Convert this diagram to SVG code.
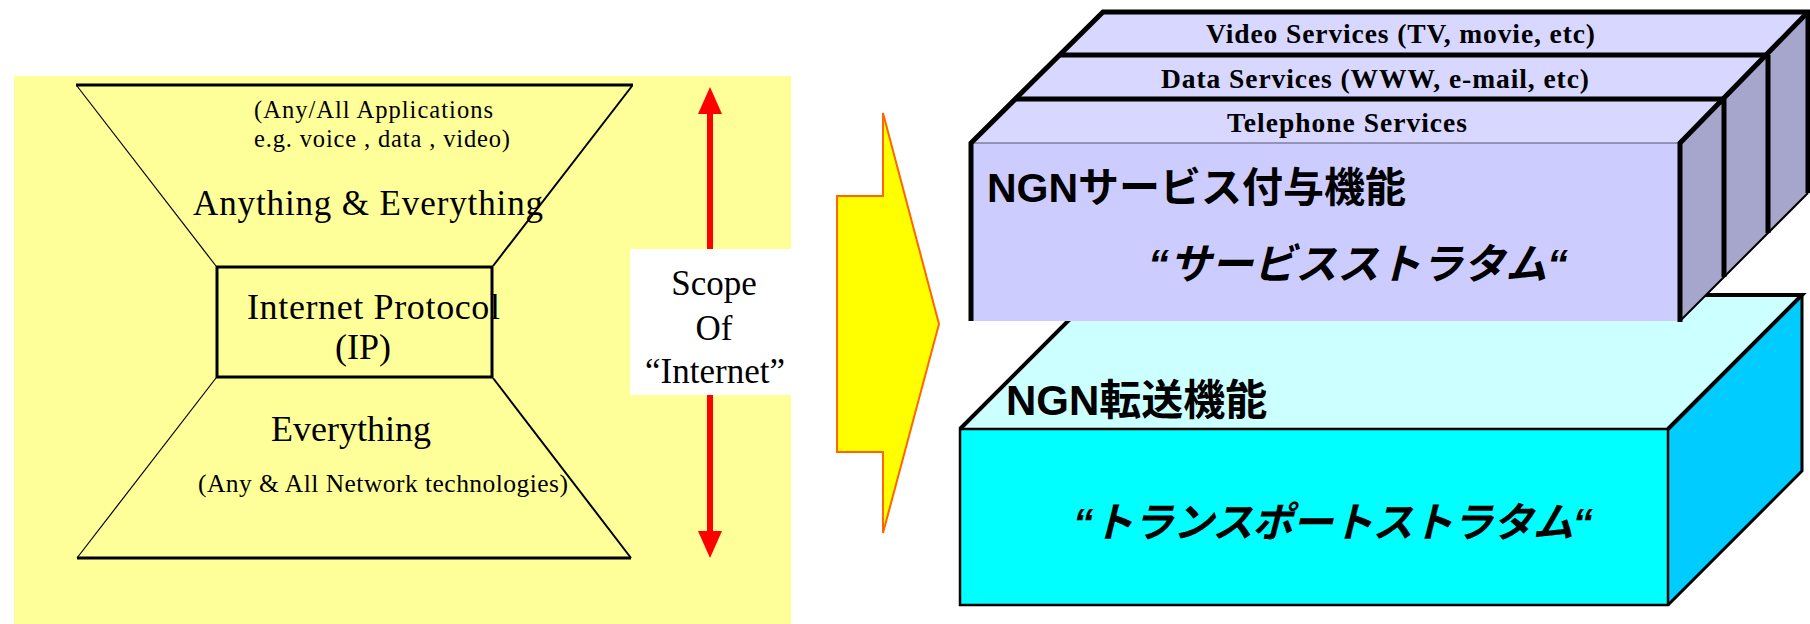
<svg xmlns="http://www.w3.org/2000/svg" width="1810" height="624" viewBox="0 0 1810 624">
<style>
.serif{font-family:"Liberation Serif","Times New Roman",serif;fill:#000}
.sb{font-family:"Liberation Serif","Times New Roman",serif;font-weight:bold;fill:#000}
.jp{font-family:"Liberation Sans","Noto Sans CJK JP",sans-serif;font-weight:bold;fill:#000}
.jpi{font-family:"Liberation Sans","Noto Sans CJK JP",sans-serif;font-weight:bold;font-style:italic;fill:#000}
.thick{stroke:#000;stroke-width:5;fill:none;stroke-linejoin:miter}
.ln{stroke:#000;fill:none}
</style>
<rect width="1810" height="624" fill="#FFFFFF"/>
<g id="internet-panel">
  <rect x="14" y="76" width="777" height="548" fill="#FFFF99"/>
  <g id="applications-layer">
    <line class="ln" x1="76" y1="85" x2="633" y2="85" stroke-width="3"/>
    <line class="ln" x1="77" y1="86" x2="216" y2="266" stroke-width="1.2"/>
    <line class="ln" x1="632" y1="86" x2="493" y2="266" stroke-width="2"/>
    <text class="serif" x="254" y="118" font-size="24.5" textLength="239">(Any/All Applications</text>
    <text class="serif" x="254" y="147" font-size="24.5" textLength="256">e.g. voice , data , video)</text>
    <text class="serif" x="193" y="215" font-size="35" textLength="350">Anything &amp; Everything</text>
  </g>
  <g id="ip-box">
    <rect x="217" y="267" width="275" height="110" fill="none" stroke="#000" stroke-width="3"/>
    <text class="serif" x="247" y="319" font-size="36" textLength="253">Internet Protocol</text>
    <text class="serif" x="363" y="359" font-size="36" text-anchor="middle">(IP)</text>
  </g>
  <g id="network-layer">
    <line class="ln" x1="216" y1="378" x2="77" y2="558" stroke-width="1.2"/>
    <line class="ln" x1="493" y1="378" x2="631" y2="558" stroke-width="2"/>
    <line class="ln" x1="77" y1="558" x2="631" y2="558" stroke-width="3"/>
    <text class="serif" x="351" y="441" font-size="36" text-anchor="middle">Everything</text>
    <text class="serif" x="198" y="492" font-size="25.5" textLength="370">(Any &amp; All Network technologies)</text>
  </g>
  <g id="scope-label">
    <rect x="630" y="249" width="161" height="146" fill="#FFFFFF"/>
    <text class="serif" x="714" y="295" font-size="35" text-anchor="middle">Scope</text>
    <text class="serif" x="714" y="340" font-size="35" text-anchor="middle">Of</text>
    <text class="serif" x="715" y="383" font-size="35" text-anchor="middle">“Internet”</text>
  </g>
</g>
<g id="connectors">
  <g id="scope-arrow" fill="#FF0000">
    <rect x="707" y="112" width="6" height="137"/>
    <rect x="707" y="395" width="6" height="138"/>
    <polygon points="710,87 698,114 722,114"/>
    <polygon points="710,558 698,531 722,531"/>
  </g>
  <polygon id="transform-arrow" points="883,113 939,324 883,533 883,452 837,452 837,196 883,196" fill="#FFFF00" stroke="#FF6600" stroke-width="2"/>
</g>
<g id="transport-stratum">
  <polygon points="960,429 1094,295 1802,295 1668,429" fill="#CCFFFF"/>
  <polygon points="1668,429 1802,295 1802,471 1668,605" fill="#00CCFF"/>
  <rect x="960" y="429" width="708" height="176" fill="#00FFFF" stroke="#000" stroke-width="2.5"/>
  <path class="ln" d="M960,429 L1094,295 H1802 L1668,429" stroke-width="4"/>
  <path class="ln" d="M1802,295 V471 L1668,605" stroke-width="3"/>
  <text class="jp" x="1006" y="415" font-size="42">NGN転送機能</text>
  <text class="jpi" x="1073" y="537" font-size="41" textLength="520">“トランスポートストラタム“</text>
</g>
<g id="service-stratum">
  <polygon points="1059,55 1103,12 1808,12 1768,55" fill="#D7D7FF"/>
  <polygon points="1768,55 1808,12 1808,193 1768,233" fill="#A6A6CC"/>
  <polygon points="1015,99 1059,55 1768,55 1724,99" fill="#D7D7FF"/>
  <polygon points="1724,99 1768,55 1768,233 1724,277" fill="#A6A6CC"/>
  <polygon points="971,143 1015,99 1724,99 1680,143" fill="#D7D7FF"/>
  <polygon points="1680,143 1724,99 1724,277 1680,321" fill="#A6A6CC"/>
  <rect x="971" y="143" width="709" height="178" fill="#CCCCFF"/>
  <line x1="971" y1="143" x2="1680" y2="143" stroke="#7F7F9F" stroke-width="1.5"/>
  <path class="ln" d="M1680,321 L1808,193" stroke-width="2"/>
  <path class="thick" d="M971,321 V143 L1103,12 H1808 V193"/>
  <path class="thick" d="M1059,55 H1768 M1015,99 H1724"/>
  <path class="thick" d="M1680,322 V143 L1808,12 M1724,99 V277 M1768,55 V233"/>
  <text class="sb" x="1206" y="43" font-size="27.5" textLength="389">Video Services (TV, movie, etc)</text>
  <text class="sb" x="1161" y="88" font-size="27.5" textLength="428">Data Services (WWW, e-mail, etc)</text>
  <text class="sb" x="1227" y="132" font-size="27.5" textLength="240">Telephone Services</text>
  <text class="jp" x="987" y="202" font-size="41">NGNサービス付与機能</text>
  <text class="jpi" x="1148" y="279" font-size="42" textLength="420">“サービスストラタム“</text>
</g>
</svg>
